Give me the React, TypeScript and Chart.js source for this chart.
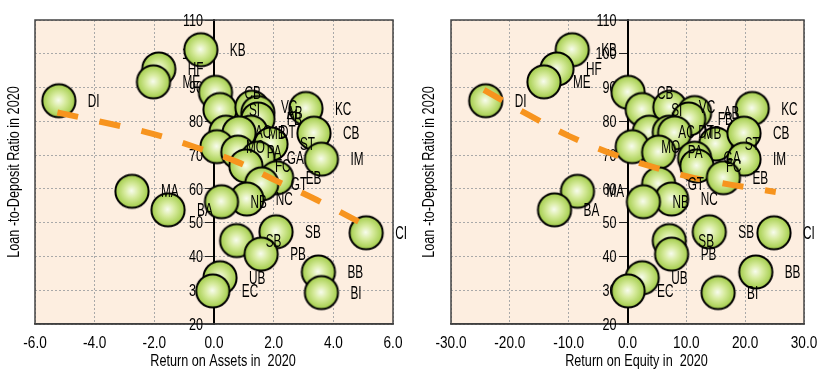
import React, { useEffect, useRef } from 'react';
import { Chart, registerables } from 'chart.js';

Chart.register(...registerables);

const FONT = "'Liberation Sans', Arial, sans-serif";

// Banks (labels), shared by both panels
const banks = ['KB', 'HF', 'ME', 'DI', 'CB', 'SI', 'VC', 'AB', 'FB', 'KC', 'AC', 'DT', 'MB', 'MO', 'PA', 'ST', 'CB', 'IM', 'GA', 'FC', 'EB', 'GT', 'NC', 'NB', 'MA', 'BA', 'SB', 'SB', 'PB', 'UB', 'EC', 'CI', 'BB', 'BI'];
// Return on assets 2020 (%)
const roa = [-0.44, -1.85, -2.03, -5.2, 0.05, 0.2, 1.27, 1.47, 1.47, 3.08, 0.4, 1.24, 0.84, 0.1, 0.8, 1.91, 3.35, 3.6, 1.47, 1.07, 2.1, 1.6, 1.1, 0.25, -2.75, -1.54, 2.08, 0.76, 1.58, 0.2, -0.04, 5.1, 3.5, 3.6];
// Return on equity 2020 (%)
const roe = [-9.4, -12.0, -14.2, -24.1, 0.1, 2.5, 7.2, 11.4, 10.4, 21.2, 3.7, 7.1, 8.0, 0.8, 5.3, 15.0, 19.8, 19.8, 11.4, 11.8, 16.3, 5.3, 7.5, 2.7, -8.5, -12.4, 13.9, 7.1, 7.5, 2.5, 0.1, 24.9, 21.8, 15.4];
// Loan-to-deposit ratio 2020 (%)
const ltd = [101.2, 95.5, 91.7, 86.1, 88.6, 83.5, 84.2, 82.6, 80.7, 83.8, 76.8, 76.8, 76.6, 72.5, 70.9, 73.3, 76.5, 68.8, 69.1, 66.8, 63.3, 61.5, 57.0, 56.2, 59.3, 53.8, 47.3, 44.7, 40.7, 33.7, 29.8, 47.0, 35.4, 29.3];

// Trend curves
const roaTrendX = [-5.25, -3.45, -2.05, -0.64, 0.77, 2.11, 3.45, 5.06];
const roaTrendY = [82.6, 79.2, 76.3, 72.4, 68.0, 62.3, 56.7, 49.3];
const roeTrendX = [-24.4, -16.5, -10.0, -3.4, 3.7, 10.7, 17.7, 25.2];
const roeTrendY = [89.3, 81.6, 75.7, 70.9, 66.8, 63.5, 61.2, 59.1];

// Axis settings
const roaRange = [-6, 6, 2];
const roeRange = [-30, 30, 10];
const ltdRange = [20, 110, 10];

const xTitleROA = 'Return on Assets in  2020';
const xTitleROE = 'Return on Equity in  2020';
const yTitle = 'Loan -to-Deposit Ratio in 2020';

function makeBubble(): HTMLCanvasElement {
  const c = document.createElement('canvas');
  c.width = 38;
  c.height = 38;
  const g = c.getContext('2d')!;
  const grad = g.createRadialGradient(18.5, 18.5, 0, 19, 19, 17);
  grad.addColorStop(0, '#f8fcee');
  grad.addColorStop(0.4, '#d8eca0');
  grad.addColorStop(1, '#a0cb45');
  g.beginPath();
  g.arc(19, 19, 16.6, 0, Math.PI * 2);
  g.fillStyle = grad;
  g.fill();
  g.lineWidth = 2;
  g.strokeStyle = '#000';
  g.stroke();
  return c;
}

function narrowText(ctx: CanvasRenderingContext2D, text: string, x: number, y: number, size: number, sx: number, align: CanvasTextAlign, rot = 0) {
  ctx.save();
  ctx.translate(x, y);
  if (rot) ctx.rotate(rot);
  ctx.scale(sx, 1);
  ctx.font = `${size}px ${FONT}`;
  ctx.textAlign = align;
  ctx.textBaseline = 'middle';
  ctx.fillStyle = '#000';
  ctx.fillText(text, 0, 0);
  ctx.restore();
}

function buildChart(
  canvas: HTMLCanvasElement,
  xs: number[],
  range: number[],
  trendX: number[],
  trendY: number[],
  xTitle: string,
  pad: { left: number; right: number }
) {
  const bubble = makeBubble();
  const pts = xs.map((x, i) => ({ x, y: ltd[i] }));
  const trend = trendX.map((x, i) => ({ x, y: trendY[i] }));

  const decor = {
    id: 'decor',
    beforeDraw(chart: any) {
      const { ctx, chartArea: ca } = chart;
      ctx.save();
      ctx.fillStyle = '#fdeee0';
      ctx.fillRect(ca.left, ca.top, ca.right - ca.left, ca.bottom - ca.top);
      ctx.restore();
    },
    beforeDatasetsDraw(chart: any) {
      const { ctx, chartArea: ca } = chart;
      ctx.save();
      ctx.strokeStyle = '#444';
      ctx.lineWidth = 1.5;
      ctx.strokeRect(ca.left, ca.top, ca.right - ca.left, ca.bottom - ca.top);
      ctx.restore();
      const xs = chart.scales.x;
      const ys = chart.scales.y;
      const axisX = xs.getPixelForValue(0);
      ys.ticks.forEach((t: any) => {
        narrowText(ctx, String(t.value), axisX - 11, ys.getPixelForValue(t.value) + 1, 17, 0.74, 'right');
      });
      xs.ticks.forEach((t: any) => {
        narrowText(ctx, Number(t.value).toFixed(1), xs.getPixelForValue(t.value), 343, 17, 0.8, 'center');
      });
    },
    afterDatasetsDraw(chart: any) {
      const { ctx, chartArea: ca } = chart;
      const meta = chart.getDatasetMeta(1);
      meta.data.forEach((p: any, i: number) => {
        narrowText(ctx, banks[i], p.x + 29, p.y + 1, 19, 0.62, 'left');
      });
      narrowText(ctx, xTitle, (ca.left + ca.right) / 2 + 9, 362, 16, 0.79, 'center');
      narrowText(ctx, yTitle, 15, (ca.top + ca.bottom) / 2, 16, 0.79, 'center', -Math.PI / 2);
    },
  };

  return new Chart(canvas, {
    type: 'scatter',
    data: {
      datasets: [
        {
          type: 'line',
          data: trend,
          showLine: true,
          borderColor: '#f7941e',
          borderWidth: 6,
          borderDash: [21, 22],
          borderCapStyle: 'butt',
          pointRadius: 0,
          tension: 0.4,
          fill: false,
          clip: false,
        } as any,
        {
          data: pts,
          pointStyle: bubble as any,
          pointRadius: 17,
          clip: false,
        } as any,
      ],
    },
    options: {
      animation: false,
      responsive: false,
      events: [],
      layout: { padding: { left: pad.left, right: pad.right, top: 20, bottom: 0 } },
      plugins: { legend: { display: false }, tooltip: { enabled: false } },
      scales: {
        x: {
          type: 'linear',
          min: range[0],
          max: range[1],
          ticks: { stepSize: range[2], display: false },
          grid: { color: '#a9a9a9', lineWidth: 1, drawTicks: false },
          border: { display: true, color: '#333', width: 1.5, dash: [2, 2] },
          afterFit: (s: any) => {
            s.height = 48;
          },
        },
        y: {
          type: 'linear',
          position: { x: 0 } as any,
          min: ltdRange[0],
          max: ltdRange[1],
          ticks: { stepSize: ltdRange[2], display: false },
          grid: { color: '#a9a9a9', lineWidth: 1, tickLength: 8, tickColor: '#222', tickBorderDash: [] } as any,
          border: { display: true, color: '#000', width: 2, dash: [2, 2] },
        },
      },
    },
    plugins: [decor],
  });
}

export default function App() {
  const leftRef = useRef<HTMLCanvasElement>(null);
  const rightRef = useRef<HTMLCanvasElement>(null);

  useEffect(() => {
    const a = buildChart(leftRef.current!, roa, roaRange, roaTrendX, roaTrendY, xTitleROA, { left: 35, right: 22 });
    const b = buildChart(rightRef.current!, roe, roeRange, roeTrendX, roeTrendY, xTitleROE, { left: 36, right: 26 });
    return () => {
      a.destroy();
      b.destroy();
    };
  }, []);

  return (
    <div style={{ position: 'fixed', left: 0, top: 0, width: 830, height: 372, background: '#fff' }}>
      <canvas ref={leftRef} width={415} height={372} style={{ position: 'absolute', left: 0, top: 0, width: 415, height: 372 }} />
      <canvas ref={rightRef} width={415} height={372} style={{ position: 'absolute', left: 415, top: 0, width: 415, height: 372 }} />
    </div>
  );
}
